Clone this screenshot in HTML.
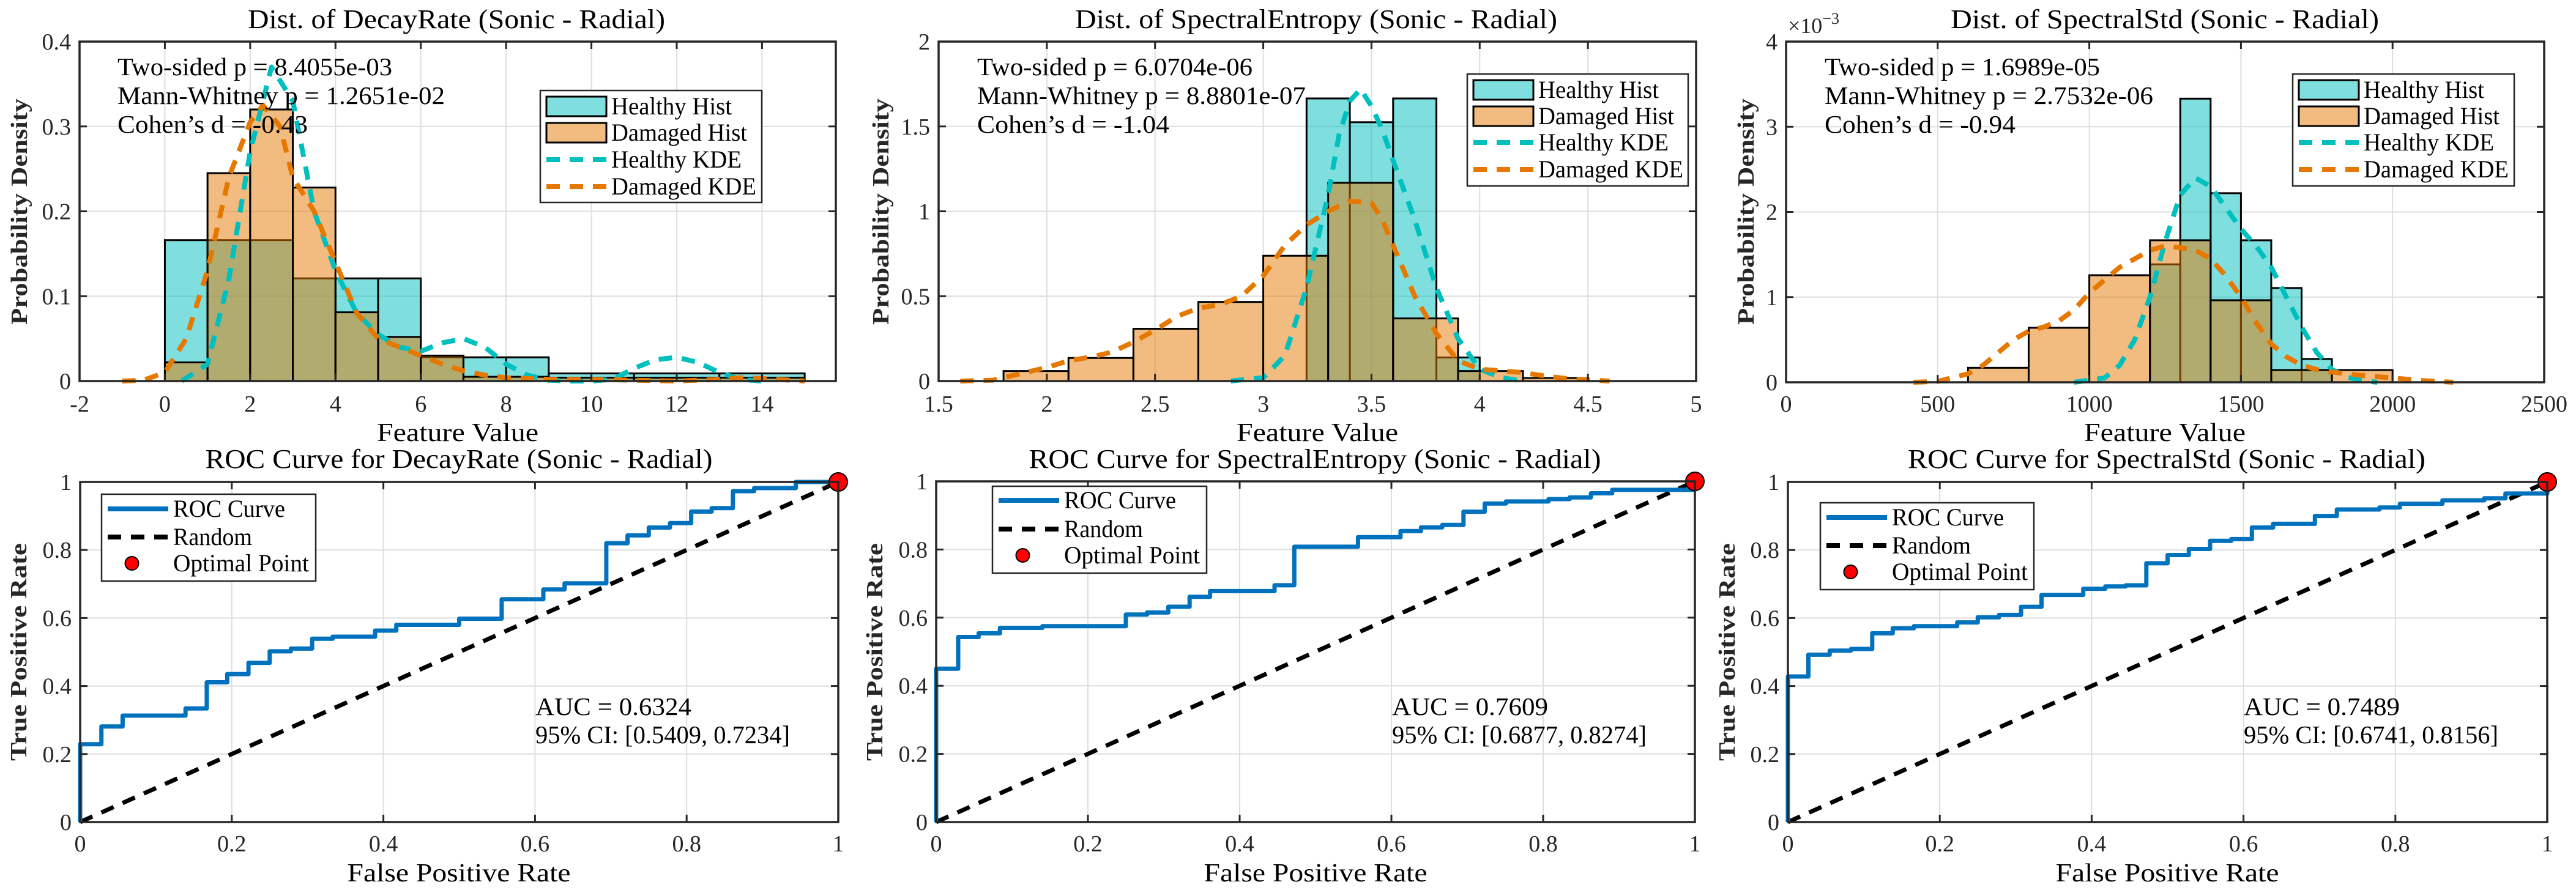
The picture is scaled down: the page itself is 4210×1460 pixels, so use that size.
<!DOCTYPE html>
<html><head><meta charset="utf-8"><title>Feature distributions and ROC curves</title>
<style>
html,body{margin:0;padding:0;background:#fff;}
svg{display:block;font-family:"Liberation Serif",serif;}
</style></head>
<body>
<svg id="fig" xmlns="http://www.w3.org/2000/svg" width="4210" height="1460" viewBox="0 0 4210 1460"></svg>
<script>
// ---------- DATA ----------
const decayBinEdges = [0,1,2,3,4,5,6,7,8,9,10,11,12,13,14,15];
const decayHealthyDensity = [0.166,0.166,0.166,0.121,0.121,0.121,0.028,0.028,0.028,0.009,0.009,0.009,0.009,0.009,0.009];
const decayDamagedDensity = [0.022,0.245,0.32,0.228,0.081,0.052,0.03,0.005,0.005,0.004,0.004,0.004,0.004,0.004,0.004];
const decayHealthyKdeX = [0.4,1,1.5,2,2.5,3,3.5,4,4.5,5,5.5,6,6.5,7,7.5,8,8.5,9,9.5,10,10.5,11,11.5,12,12.5,13,13.5,14];
const decayHealthyKdeY = [0,0.02,0.12,0.27,0.37,0.33,0.2,0.13,0.08,0.055,0.04,0.035,0.045,0.05,0.04,0.02,0.007,0.001,0,0,0.002,0.015,0.025,0.028,0.022,0.01,0.002,0];
const decayDamagedKdeX = [-1,-0.5,0,0.5,1,1.5,2,2.3,2.7,3,3.5,4,4.5,5,5.5,6,6.5,7,7.5,8,9,10,11,12,13,13.5,14,15];
const decayDamagedKdeY = [0,0.001,0.01,0.05,0.13,0.24,0.305,0.325,0.3,0.24,0.2,0.14,0.08,0.05,0.04,0.03,0.02,0.012,0.007,0.004,0.002,0.002,0.001,0,0.002,0.004,0.003,0];

const entropyHealthyEdges = [3.2,3.4,3.6,3.8,4.0];
const entropyHealthyDensity = [1.665,1.525,1.665,0.139];
const entropyDamagedEdges = [1.8,2.1,2.4,2.7,3.0,3.3,3.6,3.9,4.2,4.5];
const entropyDamagedDensity = [0.059,0.136,0.308,0.466,0.738,1.168,0.369,0.059,0.018];
const entropyHealthyKdeX = [2.85,3.0,3.1,3.2,3.3,3.35,3.4,3.45,3.5,3.55,3.6,3.7,3.8,3.9,4.0,4.1,4.2];
const entropyHealthyKdeY = [0,0.02,0.15,0.55,1.1,1.45,1.65,1.72,1.62,1.48,1.3,0.95,0.55,0.25,0.07,0.02,0];
const entropyDamagedKdeX = [1.6,1.75,1.9,2.0,2.1,2.2,2.3,2.4,2.5,2.6,2.7,2.8,2.9,3.0,3.1,3.2,3.3,3.4,3.5,3.55,3.6,3.7,3.8,3.9,4.0,4.1,4.2,4.3,4.4,4.5,4.6];
const entropyDamagedKdeY = [0,0.005,0.05,0.08,0.12,0.14,0.17,0.23,0.3,0.38,0.43,0.45,0.5,0.62,0.8,0.92,1.0,1.06,1.05,0.95,0.8,0.5,0.28,0.12,0.07,0.06,0.05,0.03,0.015,0.007,0];

const stdHealthyEdges = [1200,1300,1400,1500,1600,1700,1800];
const stdHealthyDensity = [1.385,3.33,2.22,1.667,1.107,0.274]; // x1e-3
const stdDamagedEdges = [600,800,1000,1200,1400,1600,1800,2000];
const stdDamagedDensity = [0.17,0.64,1.257,1.667,0.963,0.144,0.144];
const stdHealthyKdeX = [950,1050,1100,1150,1200,1250,1300,1350,1400,1450,1500,1550,1600,1650,1700,1750,1800,1850,1900,1950];
const stdHealthyKdeY = [0,0.05,0.2,0.5,1.0,1.65,2.2,2.4,2.3,2.05,1.8,1.6,1.35,1.0,0.65,0.35,0.15,0.06,0.02,0];
const stdDamagedKdeX = [420,500,600,650,700,750,800,850,900,950,1000,1050,1100,1150,1200,1250,1300,1350,1400,1450,1500,1550,1600,1650,1700,1750,1800,1850,1900,2000,2100,2200];
const stdDamagedKdeY = [0,0.01,0.1,0.2,0.35,0.5,0.6,0.65,0.72,0.85,1.05,1.2,1.35,1.45,1.55,1.6,1.58,1.55,1.45,1.25,1.0,0.7,0.45,0.3,0.2,0.15,0.12,0.1,0.08,0.05,0.02,0];

const decayRocStepFpr = [0,0.028,0.056,0.139,0.167,0.194,0.222,0.25,0.278,0.306,0.333,0.389,0.417,0.5,0.556,0.611,0.639,0.694,0.722,0.75,0.778,0.806,0.833,0.861,0.889,0.944];
const decayRocStepTpr = [0.229,0.281,0.313,0.334,0.411,0.435,0.468,0.502,0.51,0.539,0.545,0.563,0.58,0.598,0.655,0.684,0.702,0.82,0.843,0.866,0.879,0.913,0.923,0.973,0.982,1.0];
const entropyRocStepFpr = [0,0.029,0.056,0.084,0.14,0.25,0.278,0.306,0.334,0.361,0.446,0.472,0.556,0.612,0.639,0.667,0.695,0.723,0.751,0.807,0.835,0.863,0.891,1];
const entropyRocStepTpr = [0.45,0.543,0.554,0.57,0.575,0.609,0.615,0.632,0.661,0.678,0.695,0.808,0.836,0.854,0.865,0.872,0.911,0.935,0.941,0.948,0.953,0.965,0.975,1];
const stdRocStepFpr = [0,0.027,0.055,0.083,0.111,0.138,0.166,0.223,0.25,0.278,0.307,0.334,0.389,0.418,0.445,0.472,0.5,0.528,0.556,0.584,0.611,0.639,0.694,0.723,0.779,0.806,0.862,0.917,0.945,1];
const stdRocStepTpr = [0.428,0.492,0.504,0.509,0.555,0.57,0.576,0.587,0.602,0.609,0.633,0.668,0.686,0.693,0.696,0.761,0.785,0.803,0.827,0.832,0.866,0.877,0.9,0.919,0.925,0.936,0.946,0.952,0.966,1];

const decayXTicks = [-2,0,2,4,6,8,10,12,14];
const decayYTicks = [0,0.1,0.2,0.3,0.4];
const entropyXTicks = [1.5,2,2.5,3,3.5,4,4.5,5];
const entropyYTicks = [0,0.5,1,1.5,2];
const stdXTicks = [0,500,1000,1500,2000,2500];
const stdYTicks = [0,1,2,3,4];
const rocTicks = [0,0.2,0.4,0.6,0.8,1];

// ---------- DRAWING ----------
const NS = 'http://www.w3.org/2000/svg';
const svg = document.getElementById('fig');
function mk(tag, attrs, parent){ const e=document.createElementNS(NS,tag); for(const k in attrs) e.setAttribute(k,attrs[k]); parent.appendChild(e); return e; }
function txt(str, attrs, parent){ const e=mk('text',attrs,parent); e.textContent=str; return e; }

const CYAN='#00bfbf', ORANGE='#e67800', BLUE='#0072bd';

function makeAxes(name, px0, px1, py0, py1, xmin, xmax, ymin, ymax){
  const g = mk('g',{},svg);
  
  
  return {g, px0, px1, py0, py1,
    sx: v => px0 + (v - xmin) / (xmax - xmin) * (px1 - px0),
    sy: v => py1 - (v - ymin) / (ymax - ymin) * (py1 - py0)};
}

function drawGrid(ax, xt, yt){
  const gg = mk('g',{stroke:'#dedede','stroke-width':2},ax.g);
  
  
  xt.forEach(t => { const x=ax.sx(t); mk('line',{x1:x,x2:x,y1:ax.py0,y2:ax.py1},gg); });
  yt.forEach(t => { const y=ax.sy(t); mk('line',{x1:ax.px0,x2:ax.px1,y1:y,y2:y},gg); });
}

function drawFrame(ax, xt, yt, xlab, ylab, xTickBase){
  const gt = mk('g',{stroke:'#262626','stroke-width':3},ax.g);
  
  
  xt.forEach(t => { const x=ax.sx(t);
    mk('line',{x1:x,x2:x,y1:ax.py1,y2:ax.py1-12},gt);
    mk('line',{x1:x,x2:x,y1:ax.py0,y2:ax.py0+12},gt); });
  yt.forEach(t => { const y=ax.sy(t);
    mk('line',{x1:ax.px0,x2:ax.px0+12,y1:y,y2:y},gt);
    mk('line',{x1:ax.px1,x2:ax.px1-12,y1:y,y2:y},gt); });
  const box = mk('rect',{x:ax.px0,y:ax.py0,width:ax.px1-ax.px0,height:ax.py1-ax.py0,fill:'none',stroke:'#262626','stroke-width':3.5},ax.g);
  
  
  const gx = mk('g',{'font-size':38,'text-anchor':'middle',fill:'#262626'},ax.g);
  
  
  xt.forEach((t,i) => txt(xlab[i],{x:ax.sx(t),y:xTickBase},gx));
  const gy = mk('g',{'font-size':38,'text-anchor':'end',fill:'#262626'},ax.g);
  
  
  yt.forEach((t,i) => txt(ylab[i],{x:ax.px0-14,y:ax.sy(t)+13},gy));
}

function drawHist(ax, edges, dens, color, name){
  const g = mk('g',{},ax.g);
  
  
  for(let i=0;i<dens.length;i++){
    const x=ax.sx(edges[i]), w=ax.sx(edges[i+1])-x, y=ax.sy(dens[i]);
    const r = mk('rect',{x:x,y:y,width:w,height:ax.sy(0)-y,fill:color,'fill-opacity':0.5,stroke:'#000','stroke-width':3},g);
    
    
  }
}

function drawLine(ax, xs, ys, color, width, dash, name){
  const pts = xs.map((v,i)=> ax.sx(v).toFixed(1)+','+ax.sy(ys[i]).toFixed(1)).join(' ');
  const attrs = {points:pts,fill:'none',stroke:color,'stroke-width':width,'stroke-linejoin':'round'};
  if(dash) attrs['stroke-dasharray']=dash;
  const p = mk('polyline',attrs,ax.g);
  
  
}

function drawRoc(ax, fpr, tpr){
  const xs=[0], ys=[0]; let prev=0;
  for(let i=0;i<fpr.length;i++){ xs.push(fpr[i]); ys.push(prev); xs.push(fpr[i]); ys.push(tpr[i]); prev=tpr[i]; }
  xs.push(1); ys.push(prev);
  drawLine(ax,[0,1],[0,1],'#000',7,'22 16','random-line');
  drawLine(ax,xs,ys,BLUE,7,null,'roc-curve');
  const c = mk('circle',{cx:ax.sx(1),cy:ax.sy(1),r:15,fill:'#ff0000',stroke:'#000','stroke-width':2},ax.g);
  
  
}

function title(str, x, y, len){
  const t = txt(str,{x:x,y:y,'font-size':44,'text-anchor':'middle',textLength:len,lengthAdjust:'spacingAndGlyphs'},svg);
  
  
}
function xLabel(str, x, y, len){
  const t = txt(str,{x:x,y:y,'font-size':42,'text-anchor':'middle',textLength:len,lengthAdjust:'spacingAndGlyphs'},svg);
  
  
}
function yLabel(str, x, y, len){
  const t = txt(str,{x:0,y:0,'font-size':38,'font-weight':'bold','text-anchor':'middle',fill:'#262626',textLength:len,lengthAdjust:'spacingAndGlyphs',transform:'translate('+x+','+y+') rotate(-90)'},svg);
  
  
}
function annot(lines, x, ys, lens){
  const g = mk('g',{'font-size':41},svg);
  
  
  lines.forEach((l,i)=> txt(l,{x:x,y:ys[i],textLength:lens[i],lengthAdjust:'spacingAndGlyphs'},g));
}

const histLegLens=[197,222,213,237];
function histLegend(bx, by, bw, bh, rows){
  const g = mk('g',{},svg);
  
  
  mk('rect',{x:bx,y:by,width:bw,height:bh,fill:'#fff',stroke:'#262626','stroke-width':2.5},g);
  const labels=['Healthy Hist','Damaged Hist','Healthy KDE','Damaged KDE'];
  const px=bx+10, pw=98, tx=bx+116;
  rows.forEach((cy,i)=>{
    const e = mk('g',{},g);
    
    
    if(i<2){ mk('rect',{x:px,y:cy-16,width:pw,height:32,fill:i==0?CYAN:ORANGE,'fill-opacity':0.5,stroke:'#000','stroke-width':3},e); }
    else { mk('line',{x1:px,x2:px+pw,y1:cy,y2:cy,stroke:i==2?CYAN:ORANGE,'stroke-width':8,'stroke-dasharray':'22 16'},e); }
    txt(labels[i],{x:tx,y:cy+13,'font-size':40,textLength:histLegLens[i],lengthAdjust:'spacingAndGlyphs'},e);
  });
}
const rocLegLens=[183,129,222];
function rocLegend(bx, by, bw, bh, rows){
  const g = mk('g',{},svg);
  
  
  mk('rect',{x:bx,y:by,width:bw,height:bh,fill:'#fff',stroke:'#262626','stroke-width':2.5},g);
  const labels=['ROC Curve','Random','Optimal Point'];
  const px=bx+10, pw=99, tx=bx+117;
  rows.forEach((cy,i)=>{
    const e = mk('g',{},g);
    
    
    if(i==0) mk('line',{x1:px,x2:px+pw,y1:cy,y2:cy,stroke:BLUE,'stroke-width':8},e);
    else if(i==1) mk('line',{x1:px,x2:px+pw,y1:cy,y2:cy,stroke:'#000','stroke-width':8,'stroke-dasharray':'22 16'},e);
    else mk('circle',{cx:px+pw/2-10,cy:cy,r:11,fill:'#ff0000',stroke:'#000','stroke-width':2},e);
    txt(labels[i],{x:tx,y:cy+13,'font-size':40,textLength:rocLegLens[i],lengthAdjust:'spacingAndGlyphs'},e);
  });
}
function aucText(lines, x){
  const g = mk('g',{'font-size':41},svg);
  
  
  txt(lines[0],{x:x,y:1169,textLength:255,lengthAdjust:'spacingAndGlyphs'},g);
  txt(lines[1],{x:x,y:1215,textLength:416,lengthAdjust:'spacingAndGlyphs'},g);
}
const fmt = t => String(t);

// Panel 1: DecayRate distribution
let ax = makeAxes('decay-dist-axes',130,1366,68,623,-2,15.73,0,0.4);
drawGrid(ax,decayXTicks,decayYTicks);
drawHist(ax,decayBinEdges,decayHealthyDensity,CYAN,'healthy-hist');
drawHist(ax,decayBinEdges,decayDamagedDensity,ORANGE,'damaged-hist');
drawLine(ax,decayHealthyKdeX,decayHealthyKdeY,CYAN,8,'22 16','healthy-kde');
drawLine(ax,decayDamagedKdeX,decayDamagedKdeY,ORANGE,8,'22 16','damaged-kde');
drawFrame(ax,decayXTicks,decayYTicks,decayXTicks.map(fmt),decayYTicks.map(fmt),673);
title('Dist. of DecayRate (Sonic - Radial)',746,46,682);
xLabel('Feature Value',748,721,264);
yLabel('Probability Density',44,346,370);
annot(['Two-sided p = 8.4055e-03','Mann-Whitney p = 1.2651e-02','Cohen\u2019s d = -0.43'],192,[123,170,217],[449,535,311]);
histLegend(883,148,362,183,[174,217,261,305]);

// Panel 2: SpectralEntropy distribution
ax = makeAxes('entropy-dist-axes',1534,2772,68,623,1.5,5,0,2);
drawGrid(ax,entropyXTicks,entropyYTicks);
drawHist(ax,entropyHealthyEdges,entropyHealthyDensity,CYAN,'healthy-hist');
drawHist(ax,entropyDamagedEdges,entropyDamagedDensity,ORANGE,'damaged-hist');
drawLine(ax,entropyHealthyKdeX,entropyHealthyKdeY,CYAN,8,'22 16','healthy-kde');
drawLine(ax,entropyDamagedKdeX,entropyDamagedKdeY,ORANGE,8,'22 16','damaged-kde');
drawFrame(ax,entropyXTicks,entropyYTicks,entropyXTicks.map(fmt),entropyYTicks.map(fmt),673);
title('Dist. of SpectralEntropy (Sonic - Radial)',2151,46,788);
xLabel('Feature Value',2153,721,264);
yLabel('Probability Density',1452,346,370);
annot(['Two-sided p = 6.0704e-06','Mann-Whitney p = 8.8801e-07','Cohen\u2019s d = -1.04'],1597,[123,170,217],[450,537,314]);
histLegend(2398,121,361,183,[147,190,233,277]);

// Panel 3: SpectralStd distribution
ax = makeAxes('std-dist-axes',2919,4158,68,625,0,2500,0,4);
drawGrid(ax,stdXTicks,stdYTicks);
drawHist(ax,stdHealthyEdges,stdHealthyDensity,CYAN,'healthy-hist');
drawHist(ax,stdDamagedEdges,stdDamagedDensity,ORANGE,'damaged-hist');
drawLine(ax,stdHealthyKdeX,stdHealthyKdeY,CYAN,8,'22 16','healthy-kde');
drawLine(ax,stdDamagedKdeX,stdDamagedKdeY,ORANGE,8,'22 16','damaged-kde');
drawFrame(ax,stdXTicks,stdYTicks,stdXTicks.map(fmt),stdYTicks.map(fmt),673);
title('Dist. of SpectralStd (Sonic - Radial)',3538,46,700);
xLabel('Feature Value',3538,721,264);
yLabel('Probability Density',2866,346,370);
annot(['Two-sided p = 1.6989e-05','Mann-Whitney p = 2.7532e-06','Cohen\u2019s d = -0.94'],2982,[123,170,217],[450,537,312]);
histLegend(3747,121,362,183,[147,190,233,277]);
(function(){
  const t = mk('text',{x:2922,y:54,'font-size':36,fill:'#262626'},svg);
  
  
  t.textContent='\u00d710';
  const s = mk('tspan',{dy:-15,'font-size':26},t);
  s.textContent='\u22123';
})();

// Panel 4-6: ROC curves
const rocLab = rocTicks.map(fmt);
ax = makeAxes('decay-roc-axes',131,1370,788,1344,0,1,0,1);
drawGrid(ax,rocTicks,rocTicks);
drawRoc(ax,decayRocStepFpr,decayRocStepTpr);
drawFrame(ax,rocTicks,rocTicks,rocLab,rocLab,1392);
title('ROC Curve for DecayRate (Sonic - Radial)',750,765,829);
xLabel('False Positive Rate',750,1441,365);
yLabel('True Positive Rate',43,1066,356);
rocLegend(166,808,350,142,[832,878,921]);
aucText(['AUC = 0.6324','95% CI: [0.5409, 0.7234]'],875);

ax = makeAxes('entropy-roc-axes',1530,2770,787,1344,0,1,0,1);
drawGrid(ax,rocTicks,rocTicks);
drawRoc(ax,entropyRocStepFpr,entropyRocStepTpr);
drawFrame(ax,rocTicks,rocTicks,rocLab,rocLab,1392);
title('ROC Curve for SpectralEntropy (Sonic - Radial)',2149,765,935);
xLabel('False Positive Rate',2150,1441,365);
yLabel('True Positive Rate',1442,1066,356);
rocLegend(1622,795,350,142,[818,865,908]);
aucText(['AUC = 0.7609','95% CI: [0.6877, 0.8274]'],2275);

ax = makeAxes('std-roc-axes',2922,4163,788,1344,0,1,0,1);
drawGrid(ax,rocTicks,rocTicks);
drawRoc(ax,stdRocStepFpr,stdRocStepTpr);
drawFrame(ax,rocTicks,rocTicks,rocLab,rocLab,1392);
title('ROC Curve for SpectralStd (Sonic - Radial)',3541,765,846);
xLabel('False Positive Rate',3542,1441,365);
yLabel('True Positive Rate',2835,1066,356);
rocLegend(2975,822,349,142,[846,892,935]);
aucText(['AUC = 0.7489','95% CI: [0.6741, 0.8156]'],3667);
</script>
</body></html>
